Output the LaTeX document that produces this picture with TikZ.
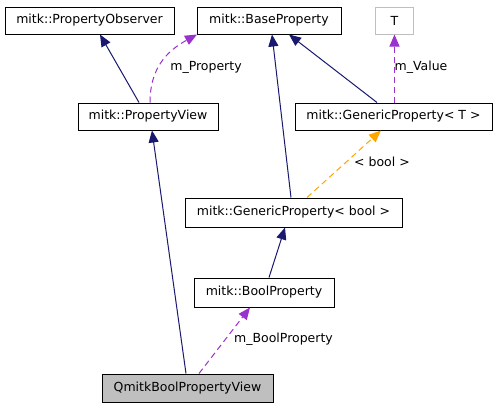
\documentclass[tikz,border=0pt]{standalone}
\usepackage{fontspec}
\setmainfont{DejaVu Sans}
\usetikzlibrary{arrows.meta}
\definecolor{navy}{HTML}{191970}
\definecolor{purp}{HTML}{9A32CD}
\definecolor{orng}{HTML}{FFA500}
\definecolor{boxgray}{HTML}{BFBFBF}
\begin{document}
\begin{tikzpicture}[x=1pt,y=-1pt,
  every node/.style={font=\fontsize{12.5}{15}\selectfont, inner sep=0pt},
  cls/.style={draw=black, line width=1pt, rectangle, fill=white},
  inherit/.style={draw=navy, line width=1pt, -{Triangle[length=12pt,width=10pt]}},
  member/.style={draw=purp, line width=1pt, dash pattern=on 6pt off 4pt, -{Triangle[length=12pt,width=10pt]}},
  templ/.style={draw=orng, line width=1pt, dash pattern=on 6pt off 4pt, -{Triangle[length=12pt,width=10pt]}},
  lbl/.style={}]
\useasboundingbox (0,0) rectangle (499,408);
\fill[white] (0,0) rectangle (499,408);
\node[cls, minimum width=169pt, minimum height=27pt] (obs) at (89.5,20.5) {mitk::PropertyObserver};
\node[cls, minimum width=144pt, minimum height=27pt] (base) at (269,20.5) {mitk::BaseProperty};
\node[cls, draw=boxgray, minimum width=38pt, minimum height=27pt] (T) at (394.5,20.5) {T};
\node[cls, minimum width=140pt, minimum height=27pt] (pview) at (148,116.5) {mitk::PropertyView};
\node[cls, minimum width=197pt, minimum height=27pt] (genT) at (393.5,116.5) {mitk::GenericProperty< T >};
\node[cls, minimum width=217pt, minimum height=29pt] (genB) at (293.5,212.5) {mitk::GenericProperty< bool >};
\node[cls, minimum width=140pt, minimum height=29pt] (boolp) at (264,292.5) {mitk::BoolProperty};
\node[cls, fill=boxgray, minimum width=171pt, minimum height=28pt] (qmitk) at (187.5,388) {QmitkBoolPropertyView};

\draw[inherit] ([xshift=-9pt]pview.north) -- ([xshift=10.5pt]obs.south);
\draw[member] ([xshift=2pt]pview.north) .. controls (150,70) and (165,52) .. ([xshift=-72pt]base.south);
\node[lbl] (lprop) at (206,67) {m\_Property};
\draw[inherit] ([xshift=-16.5pt]genT.north) -- ([xshift=20pt]base.south);
\draw[member, draw=purp] (T.south |- genT.north) -- (T.south);
\node[lbl] (lval) at (421,67) {m\_Value};
\draw[inherit] ([xshift=-2.5pt]genB.north) -- ([xshift=3pt]base.south);
\draw[templ] ([xshift=13.5pt]genB.north) -- ([xshift=-12.5pt]genT.south);
\node[lbl] (lbool) at (382,162) {< bool >};
\draw[inherit] ([xshift=5pt]boolp.north) -- ([xshift=-8.5pt]genB.south);
\draw[inherit] ([xshift=-1.5pt]qmitk.north) -- ([xshift=4pt]pview.south);
\draw[member] ([xshift=11.5pt]qmitk.north) -- ([xshift=-14pt]boolp.south);
\node[lbl] (lbp) at (283.5,339) {m\_BoolProperty};
\end{tikzpicture}
\end{document}
